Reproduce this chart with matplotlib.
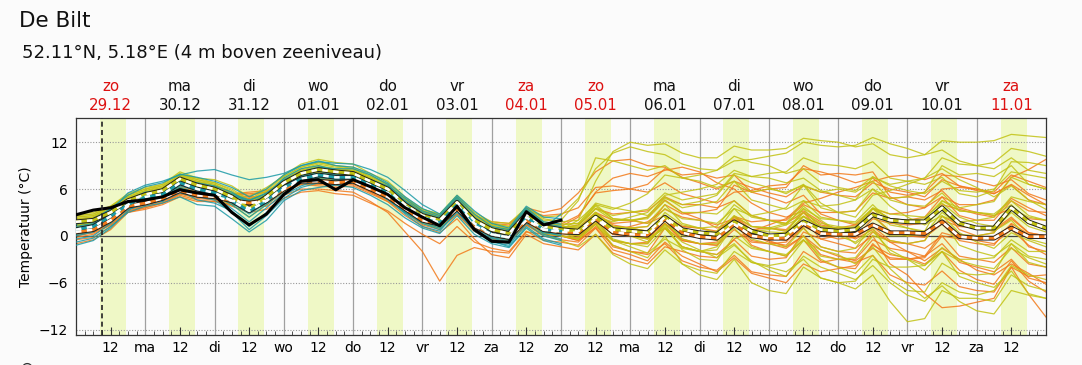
import numpy as np
import matplotlib.pyplot as plt

# tijdas: 6-uurlijkse stappen vanaf zo 29.12 00:00 (in dagen)
t_teal = np.arange(0, 169, 6) / 24.0
t_full = np.arange(0, 337, 6) / 24.0
nu = 9.1 / 24.0  # huidige tijd (gestreepte lijn)

dag_namen = ['zo', 'ma', 'di', 'wo', 'do', 'vr', 'za', 'zo', 'ma', 'di', 'wo', 'do', 'vr', 'za']
datums = ['29.12', '30.12', '31.12', '01.01', '02.01', '03.01', '04.01',
          '05.01', '06.01', '07.01', '08.01', '09.01', '10.01', '11.01']
weekend = [True, False, False, False, False, False, True, True, False, False, False, False, False, True]
onder_labels = ['12', 'ma', '12', 'di', '12', 'wo', '12', 'do', '12', 'vr', '12', 'za', '12', 'zo',
                '12', 'ma', '12', 'di', '12', 'wo', '12', 'do', '12', 'vr', '12', 'za', '12']

# deterministische run (zwart)
det = [2.7, 3.3, 3.6, 4.4, 4.6, 5.0, 5.9, 5.5, 5.2, 3.0, 1.4, 2.8, 5.3, 7.0, 7.2, 5.9, 7.2, 6.3, 5.3,
       3.6, 2.4, 1.3, 3.8, 0.8, -0.7, -0.8, 3.1, 1.4, 2.0]

# ensemble gemiddelden
teal_gem = [0.8, 1.2, 2.5, 4.0, 5.0, 5.3, 6.8, 6.0, 5.5, 4.5, 3.2, 4.5, 6.2, 7.3, 7.8, 7.5, 7.5, 6.5,
            5.5, 3.8, 2.4, 1.7, 4.0, 1.6, 0.2, -0.2, 2.4, 0.8, 0.6]
oranje_gem = [0.5, 0.8, 2.0, 3.8, 4.2, 4.8, 5.8, 5.2, 5.0, 4.5, 4.2, 4.5, 6.0, 7.0, 7.0, 6.8, 7.0, 6.0,
              5.0, 3.5, 2.0, 1.5, 3.5, 1.3, 0.2, -0.2, 2.0, 0.8, 0.5, 0.4, 2.2, 0.5, 0.2, 0.1, 2.2, 0.4,
              -0.1, -0.3, 1.5, 0.0, -0.3, -0.3, 1.6, 0.3, 0.2, 0.2, 1.4, 0.4, 0.4, 0.3, 1.8, -0.1, -0.3,
              -0.3, 1.0, -0.1, -0.1]
olijf_gem = [1.8, 2.0, 3.0, 4.5, 5.3, 5.8, 7.3, 6.5, 6.0, 5.0, 3.5, 5.0, 6.8, 8.0, 8.5, 8.2, 8.0, 7.0,
             6.0, 4.0, 2.6, 2.0, 4.3, 2.0, 0.8, 0.3, 2.8, 1.2, 0.8, 0.6, 2.4, 0.8, 0.6, 0.4, 2.4, 0.8,
             0.4, 0.2, 1.8, 0.6, 0.0, 0.1, 1.8, 0.8, 0.6, 0.8, 2.7, 2.0, 1.8, 1.8, 3.6, 1.6, 1.0, 1.0,
             3.6, 1.8, 1.0]

# ensemble leden, eerste model (7 dagen)
teal_leden = [
    [1.5, 2.0, 3.5, 5.2, 6.3, 6.8, 7.9, 7.5, 7.0, 6.2, 5.0, 6.0, 7.8, 9.0, 9.6, 9.0, 8.8, 8.0, 6.8, 5.0, 3.5, 2.6, 5.0, 2.8, 1.2, 0.8, 3.6, 1.8, 1.5],
    [-0.8, -0.3, 1.2, 3.0, 3.8, 4.2, 5.0, 4.0, 3.8, 2.2, 0.5, 2.0, 4.5, 5.8, 6.2, 6.5, 6.2, 5.2, 4.0, 2.3, 1.0, 0.3, 2.6, 0.2, -1.0, -1.5, 1.0, -0.6, -1.2],
    [1.0, 1.4, 3.0, 4.5, 5.5, 5.7, 7.4, 6.4, 6.2, 5.2, 4.0, 5.0, 6.5, 7.6, 8.5, 8.0, 7.0, 6.0, 4.6, 3.0, 1.8, 1.0, 3.6, 1.2, -0.3, -0.8, 2.0, 0.5, 0.0],
    [0.4, 0.8, 2.2, 3.6, 4.5, 4.8, 6.0, 5.6, 5.0, 3.5, 1.8, 3.6, 5.5, 6.8, 7.0, 6.8, 7.8, 7.2, 6.2, 4.5, 3.0, 2.2, 4.5, 2.0, 0.8, 0.2, 3.0, 1.2, 1.2],
    [1.2, 1.6, 2.8, 4.2, 5.3, 6.0, 7.0, 6.6, 5.8, 5.2, 4.5, 5.5, 7.0, 8.0, 8.3, 7.8, 7.2, 6.0, 5.0, 3.2, 2.0, 1.2, 3.8, 1.4, -0.2, -0.6, 2.2, 0.4, 0.2],
    [0.6, 1.5, 3.2, 5.5, 6.5, 7.0, 7.8, 8.3, 8.5, 7.8, 7.2, 7.5, 8.0, 9.0, 9.5, 9.3, 9.2, 8.5, 7.5, 5.8, 4.0, 2.8, 5.2, 3.2, 1.6, 1.0, 3.8, 2.4, 2.2],
    [0.0, 0.5, 1.8, 3.4, 4.0, 4.5, 5.5, 5.0, 4.6, 3.0, 0.8, 2.6, 4.8, 6.2, 6.8, 6.6, 6.8, 5.8, 4.8, 2.8, 1.2, 0.6, 3.2, 0.6, -0.8, -1.2, 1.6, 0.0, -0.6],
    [1.6, 1.8, 2.6, 4.0, 4.8, 5.2, 6.5, 6.2, 5.5, 4.8, 3.8, 4.8, 6.5, 7.8, 8.0, 7.2, 7.0, 6.2, 5.8, 4.2, 2.8, 2.0, 4.3, 1.9, 0.4, 0.0, 2.8, 1.3, 1.0],
    [-1.2, -0.6, 1.0, 3.2, 4.6, 5.0, 6.2, 5.4, 5.2, 4.0, 2.4, 4.0, 5.8, 7.0, 7.4, 7.6, 8.2, 7.0, 5.8, 4.0, 2.2, 1.6, 4.2, 1.5, 0.0, -0.4, 2.6, 0.6, 0.4],
    [0.9, 1.0, 2.4, 3.8, 4.4, 4.4, 6.8, 6.0, 5.6, 4.2, 2.8, 4.2, 6.0, 7.0, 7.5, 7.2, 7.4, 6.6, 5.6, 3.6, 2.2, 1.4, 3.5, 1.0, -0.5, -1.0, 2.2, 0.2, -0.4],
    [0.2, 0.6, 2.0, 3.8, 4.8, 5.0, 6.4, 5.8, 5.4, 4.4, 3.4, 4.6, 6.4, 7.6, 8.0, 7.8, 7.6, 6.4, 5.2, 3.4, 2.0, 1.2, 4.4, 1.8, 0.4, -0.4, 2.6, 1.0, 2.8],
    [1.8, 2.2, 3.4, 4.6, 5.6, 5.8, 7.2, 6.8, 6.4, 5.6, 4.2, 5.2, 7.4, 8.6, 9.0, 8.4, 8.0, 7.2, 6.4, 4.8, 3.2, 2.4, 4.8, 2.4, 0.8, 0.4, 3.2, 1.6, 0.8],
    [-0.4, 0.0, 1.6, 3.6, 4.2, 4.6, 5.8, 4.6, 4.2, 3.2, 1.2, 3.0, 5.2, 6.4, 7.2, 7.0, 7.0, 6.2, 5.0, 3.0, 1.6, 0.8, 3.0, 0.8, -0.6, -1.4, 1.2, -0.4, -1.0],
    [0.8, 1.4, 2.8, 4.4, 5.0, 5.6, 6.6, 6.2, 6.0, 5.4, 4.6, 5.4, 7.2, 8.2, 8.8, 8.6, 8.6, 7.8, 6.6, 4.4, 2.6, 1.8, 4.6, 2.2, 1.0, 0.6, 3.4, 1.6, 1.2],
]

# ensemble leden, tweede model (14 dagen)
oranje_leden = [
    [1.0, 1.2, 2.6, 4.4, 5.0, 5.5, 6.6, 6.0, 5.8, 5.4, 5.2, 5.6, 7.0, 8.2, 8.6, 8.0, 7.8, 6.8, 6.0, 4.6, 3.0, 2.4, 4.4, 2.5, 1.6, 1.4, 3.6, 3.0, 3.5,
     5.5, 8.2, 9.6, 9.8, 9.0, 8.8, 7.5, 6.8, 6.0, 7.0, 6.2, 5.5, 5.0, 6.4, 5.6, 5.2, 5.0, 6.8, 6.0, 5.6, 5.0, 7.2, 6.4, 6.0, 5.6, 7.8, 7.0, 6.2],
    [-0.5, -0.2, 1.2, 3.0, 3.4, 4.0, 5.0, 4.4, 4.4, 4.0, 3.6, 3.8, 5.2, 6.0, 6.0, 5.8, 5.6, 4.4, 3.0, 0.5, -2.0, -5.8, -2.5, -1.5, -2.0, -2.2, 0.5, 0.2, 0.0,
     -0.6, 1.0, -1.2, -2.0, -2.4, -1.0, -3.2, -4.0, -4.4, -2.5, -4.6, -5.0, -5.2, -2.0, -3.4, -3.0, -3.4, -2.5, -5.0, -6.0, -6.3, -4.5, -6.5, -7.0, -7.2, -4.0, -5.2, -5.0],
    [0.8, 1.0, 2.2, 4.0, 4.4, 5.0, 6.0, 5.4, 5.2, 4.8, 4.6, 4.8, 6.2, 7.2, 7.4, 7.0, 7.2, 6.2, 5.2, 3.6, 2.2, 1.6, 3.8, 1.4, 0.4, 0.0, 2.2, 1.0, 0.5,
     0.2, 2.3, 0.4, 0.0, -0.3, 1.6, -0.4, -1.0, -1.2, 1.5, 0.0, 0.0, 0.0, 2.5, 1.2, 1.0, 0.8, 2.6, 0.6, 0.0, -0.2, 1.5, -0.6, -1.0, -1.2, 1.6, 0.2, 0.0],
    [0.2, 0.6, 1.6, 3.4, 3.8, 4.4, 5.4, 4.8, 4.6, 4.0, 3.6, 4.0, 5.6, 6.6, 6.6, 6.4, 6.6, 5.6, 4.6, 3.2, 1.8, 1.2, 3.2, 1.2, 0.4, 0.2, 2.4, 1.2, 1.0,
     0.8, 3.0, 1.4, 1.0, 1.2, 4.0, 2.8, 3.0, 3.4, 6.5, 5.6, 6.0, 6.2, 9.0, 7.8, 8.0, 7.8, 8.2, 5.0, 4.0, 3.6, 5.0, 2.6, 2.0, 2.0, 4.5, 3.2, 3.0],
    [1.2, 1.5, 2.6, 4.2, 4.6, 5.2, 6.4, 5.8, 5.6, 5.2, 5.0, 5.2, 6.4, 7.4, 7.6, 7.2, 7.4, 6.4, 5.2, 3.0, 1.4, 0.8, 2.8, 0.6, -0.4, -0.8, 1.4, 0.2, 0.0,
     -0.4, 2.0, -0.6, -1.0, -0.8, 2.5, 1.2, 1.0, 0.4, 2.0, -1.2, -2.0, -2.6, -0.5, -3.2, -4.0, -4.2, -1.0, -3.0, -3.0, -2.8, 0.0, -0.4, 0.0, 0.4, 3.5, 2.2, 2.0],
    [0.0, 0.4, 1.6, 3.6, 4.0, 4.6, 5.6, 5.0, 4.8, 4.4, 4.4, 4.6, 6.0, 7.2, 7.0, 6.8, 7.0, 6.0, 5.0, 3.8, 2.4, 1.8, 3.8, 1.8, 0.8, 0.6, 2.6, 1.6, 1.5,
     2.6, 5.5, 5.8, 6.0, 6.6, 8.6, 7.8, 8.0, 7.4, 7.8, 5.6, 5.0, 4.2, 5.2, 2.8, 2.0, 1.4, 2.5, 0.6, 0.0, 0.0, 2.0, 1.2, 1.0, 0.6, 2.2, 0.4, 0.0],
    [0.6, 0.9, 2.2, 3.8, 4.2, 4.8, 5.6, 5.0, 4.8, 4.2, 3.8, 4.2, 5.8, 6.8, 6.8, 6.6, 6.8, 5.8, 4.8, 3.2, 1.8, 1.2, 3.2, 1.0, 0.0, -0.4, 1.8, 0.4, 0.0,
     -0.2, 2.0, 0.2, 0.0, -0.4, 1.0, -1.4, -2.0, -2.4, -0.5, -2.6, -3.0, -2.8, 0.5, -0.4, 0.0, 0.4, 3.0, 2.0, 2.0, 2.4, 5.0, 4.0, 4.0, 4.6, 7.5, 8.5, 9.8],
    [-0.2, 0.2, 1.4, 3.2, 3.6, 4.2, 5.2, 4.6, 4.4, 4.0, 4.0, 4.2, 5.8, 6.6, 6.4, 6.2, 6.4, 5.4, 4.4, 3.0, 1.6, 1.0, 2.8, 0.6, -0.4, -0.8, 1.4, 0.0, -0.5,
     -0.8, 1.2, -0.6, -1.0, -1.0, 1.5, 0.4, 0.0, 0.2, 2.5, 1.2, 1.0, 0.6, 2.0, -0.4, -1.0, -1.6, 0.0, -3.6, -5.0, -7.4, -9.2, -9.0, -8.5, -8.0, -4.0, -7.5, -10.4],
    [0.6, 1.0, 2.0, 3.8, 4.4, 5.0, 6.0, 5.4, 5.2, 4.8, 4.4, 4.8, 6.4, 7.4, 7.2, 7.0, 7.2, 6.2, 5.2, 3.8, 2.4, 1.8, 3.8, 1.6, 0.6, 0.2, 2.4, 1.2, 1.0,
     1.0, 3.0, 2.0, 2.0, 1.6, 2.6, 0.6, 0.0, 0.2, 2.5, 1.8, 2.0, 2.0, 4.0, 3.0, 3.0, 3.2, 5.5, 4.8, 5.0, 4.6, 5.8, 3.6, 3.0, 2.6, 3.5, 1.6, 1.0],
    [0.4, 0.6, 1.8, 3.6, 4.0, 4.6, 5.8, 5.2, 5.0, 4.6, 4.4, 4.6, 6.0, 6.8, 7.0, 6.8, 7.0, 6.0, 5.0, 3.4, 2.0, 1.4, 3.4, 1.2, 0.2, -0.2, 2.0, 0.8, 0.5,
     0.2, 2.2, 0.2, 0.0, 0.2, 2.5, 1.2, 1.0, 0.6, 2.5, 0.4, 0.0, -0.6, 1.0, -1.4, -2.0, -2.2, 0.5, -0.8, -1.0, -1.6, 0.0, -2.6, -3.0, -3.4, -1.5, -3.6, -4.0],
    [1.4, 1.6, 2.8, 4.4, 4.8, 5.4, 6.6, 5.8, 5.6, 5.0, 4.8, 5.0, 6.6, 7.6, 7.8, 7.4, 7.6, 6.6, 5.6, 4.0, 2.4, 1.6, 3.6, 1.0, -0.2, -0.6, 1.6, 0.4, 0.0,
     -0.6, 1.5, -1.4, -2.0, -2.2, 1.0, -0.6, -1.0, -0.8, 2.5, 0.8, 1.0, 0.8, 3.0, 0.6, 0.0, 0.4, 3.5, 2.2, 2.0, 1.6, 3.5, 0.8, 0.0, -0.4, 1.5, -1.4, -2.0],
    [0.0, 0.5, 1.8, 3.8, 4.4, 5.2, 6.2, 5.4, 5.0, 4.4, 4.2, 4.4, 6.0, 7.0, 7.2, 7.2, 7.4, 6.2, 5.2, 3.6, 2.0, 1.4, 3.4, 1.4, 0.6, 0.4, 2.6, 1.2, 1.0,
     1.4, 3.5, 2.8, 3.0, 3.2, 5.0, 4.0, 4.0, 3.6, 4.5, 2.6, 2.0, 1.6, 3.0, 1.4, 1.0, 1.4, 3.5, 2.8, 3.0, 3.6, 6.0, 6.2, 6.0, 5.4, 6.5, 4.6, 4.0],
    [0.9, 1.1, 2.1, 3.9, 4.3, 4.9, 5.9, 5.3, 5.1, 4.5, 4.1, 4.5, 6.1, 7.1, 7.1, 6.9, 7.1, 6.1, 5.1, 3.5, 2.1, 1.5, 3.5, 1.3, 0.3, -0.1, 2.1, 0.9, 0.5,
     0.2, 2.0, 0.2, 0.0, -0.2, 1.6, -0.6, -1.0, -1.2, 0.8, -0.8, -1.0, -0.8, 1.5, 0.2, 0.0, -0.2, 1.2, -0.6, -1.0, -0.6, 2.5, 1.4, 1.0, 0.8, 2.4, 0.4, 0.0],
    [-1.0, -0.5, 0.8, 3.0, 3.6, 4.2, 5.4, 5.0, 4.8, 4.6, 4.8, 5.0, 6.6, 7.6, 7.4, 7.2, 7.4, 6.4, 5.4, 3.8, 2.2, 1.6, 3.4, 1.2, 0.2, -0.2, 2.2, 0.8, 0.5,
     0.4, 2.6, 1.2, 1.0, 0.6, 2.5, 0.4, 0.0, -0.4, 1.5, -0.6, -1.0, -1.6, 0.0, -2.4, -3.0, -3.0, -0.5, -1.6, -2.0, -2.6, -1.0, -3.4, -4.0, -4.6, -3.0, -5.4, -6.0],
    [0.2, 0.4, 1.4, 3.2, 3.8, 4.4, 5.4, 5.0, 5.2, 5.4, 5.6, 5.8, 6.8, 7.6, 7.8, 7.4, 7.2, 6.4, 5.8, 4.6, 3.2, 2.2, 3.6, 1.8, 1.0, 0.8, 2.6, 1.4, 1.2,
     2.4, 5.6, 7.4, 8.0, 7.6, 8.4, 8.8, 8.2, 6.8, 6.0, 4.2, 3.0, 2.4, 3.2, 1.8, 0.6, -0.4, 0.8, -0.8, -2.0, -3.2, -1.6, -3.0, -4.4, -5.0, -3.6, -4.8, -6.2],
    [1.0, 1.3, 2.4, 4.0, 4.4, 5.0, 6.2, 5.6, 5.4, 5.0, 4.8, 5.2, 6.6, 7.4, 7.2, 7.0, 6.8, 5.6, 4.4, 2.6, 1.2, 0.4, 2.2, -0.4, -2.4, -2.8, 0.2, -1.0, -1.4,
     -1.8, 0.2, -2.2, -3.0, -3.6, -1.4, -2.0, -2.6, -2.8, -0.4, 0.6, 1.4, 2.2, 4.2, 4.8, 5.6, 6.2, 7.0, 7.6, 7.8, 7.2, 8.0, 6.4, 5.8, 5.4, 6.6, 5.2, 4.0],
    [0.6, 0.9, 1.8, 3.4, 4.0, 4.6, 5.6, 5.0, 4.6, 3.8, 3.0, 3.4, 4.8, 5.6, 5.8, 5.4, 5.2, 4.2, 3.2, 1.6, 0.2, -1.0, 1.2, -0.8, -1.6, -2.0, 0.6, -0.6, -0.8,
     -1.2, 1.0, -1.8, -2.4, -3.2, -0.8, -2.6, -3.6, -4.6, -2.8, -4.8, -5.4, -6.0, -3.6, -4.6, -4.2, -3.8, -1.2, -2.4, -2.8, -3.6, -2.0, -4.4, -5.6, -6.2, -3.2, -5.8, -7.2],
    [0.2, 0.6, 1.8, 3.6, 4.2, 4.8, 6.0, 5.6, 5.6, 5.4, 5.4, 5.6, 6.8, 7.6, 7.6, 7.4, 7.6, 6.8, 6.0, 4.6, 3.2, 2.6, 4.2, 2.6, 1.8, 1.6, 3.2, 2.6, 2.8,
     3.6, 6.2, 6.4, 6.0, 5.6, 6.8, 5.4, 4.8, 4.2, 5.6, 5.8, 6.4, 6.6, 8.6, 8.2, 7.6, 6.8, 7.4, 5.6, 5.2, 5.6, 7.8, 7.6, 7.0, 6.4, 7.2, 5.4, 4.6],
    [0.4, 0.7, 1.9, 3.7, 4.1, 4.7, 5.7, 5.1, 4.9, 4.3, 4.0, 4.3, 5.9, 6.9, 6.9, 6.7, 6.9, 5.9, 4.9, 3.3, 1.9, 1.3, 3.3, 1.1, 0.1, -0.3, 1.9, 0.6, 0.3,
     0.0, 1.6, 0.8, 1.2, 1.8, 3.4, 2.4, 2.0, 1.4, 2.2, 0.4, -0.6, -1.4, 0.0, -1.8, -2.6, -3.2, -1.6, -2.8, -3.0, -2.6, 0.4, -0.2, -0.6, -1.0, 0.8, -1.2, -2.4],
    [0.9, 1.2, 2.4, 4.2, 4.6, 5.2, 6.2, 5.6, 5.4, 4.8, 4.6, 4.8, 6.4, 7.4, 7.4, 7.2, 7.4, 6.4, 5.4, 3.8, 2.4, 1.8, 3.8, 1.6, 0.6, 0.2, 2.4, 1.0, 0.8,
     0.6, 2.6, 1.6, 1.8, 2.4, 4.6, 3.0, 2.2, 1.0, 2.0, 0.2, -0.8, -1.2, 1.2, 0.2, -0.4, -0.2, 2.2, 1.6, 1.4, 1.6, 4.0, 3.4, 2.8, 2.4, 4.8, 3.6, 2.6],
]

# ensemble leden, derde model (14 dagen)
olijf_leden = [
    [2.4, 2.6, 3.6, 5.2, 6.0, 6.6, 8.0, 7.2, 6.8, 6.0, 4.6, 6.0, 7.8, 9.2, 9.8, 9.4, 9.2, 8.0, 7.0, 5.0, 3.4, 2.8, 5.0, 2.6, 1.4, 0.9, 3.4, 1.4, 0.8,
     2.0, 7.0, 10.8, 12.0, 11.6, 11.8, 10.6, 10.0, 10.0, 11.5, 11.0, 11.0, 11.2, 12.5, 12.2, 12.0, 11.4, 11.8, 10.4, 10.0, 10.4, 12.2, 12.0, 12.0, 12.2, 13.0, 12.8, 12.6],
    [0.6, 0.8, 2.0, 3.6, 4.4, 4.8, 6.2, 5.4, 5.0, 4.0, 2.4, 4.0, 5.8, 7.0, 7.4, 7.2, 7.0, 6.0, 5.0, 3.0, 1.6, 1.0, 3.4, 1.2, 0.0, -0.5, 2.0, 0.6, 0.5,
     -0.4, 1.5, -1.2, -2.0, -2.8, 0.0, -3.6, -5.0, -5.6, -3.0, -6.0, -7.0, -7.4, -4.0, -5.4, -6.0, -6.8, -5.0, -8.4, -11.0, -10.6, -7.0, -8.0, -8.0, -8.4, -5.0, -6.4, -7.0],
    [2.0, 2.2, 3.2, 4.8, 5.6, 6.0, 7.6, 6.8, 6.2, 5.2, 3.8, 5.2, 7.0, 8.2, 8.8, 8.4, 8.2, 7.2, 6.2, 4.2, 2.8, 2.2, 4.6, 2.2, 1.0, 0.6, 3.0, 1.4, 1.0,
     0.8, 3.0, 1.2, 1.0, 0.6, 2.5, 0.4, 0.0, -0.6, 1.0, -1.4, -2.0, -2.4, -0.5, -2.6, -3.0, -2.8, 0.0, -0.6, -1.0, -0.6, 2.5, 1.8, 2.0, 2.4, 5.0, 4.4, 4.0],
    [1.4, 1.6, 2.6, 4.2, 5.0, 5.4, 7.0, 6.2, 5.6, 4.6, 3.0, 4.6, 6.4, 7.6, 8.0, 7.8, 7.6, 6.8, 5.8, 3.8, 2.4, 1.8, 4.0, 1.8, 0.6, 0.2, 2.6, 1.0, 0.8,
     1.0, 3.5, 2.0, 2.0, 2.4, 5.0, 3.6, 4.0, 4.4, 7.0, 5.6, 6.0, 5.6, 6.5, 3.6, 3.0, 3.2, 6.0, 4.8, 5.0, 5.6, 9.0, 7.8, 8.0, 7.6, 9.0, 6.6, 6.0],
    [1.0, 1.4, 2.6, 4.0, 4.8, 5.2, 6.8, 6.0, 5.6, 4.6, 3.0, 4.4, 6.2, 7.4, 7.8, 7.6, 7.6, 6.6, 5.6, 3.6, 2.2, 1.6, 3.8, 1.4, 0.2, -0.2, 2.2, 0.4, 0.0,
     -0.4, 2.0, -0.4, -1.0, -1.4, 1.0, -1.4, -2.0, -1.8, 1.5, 0.2, 0.0, 0.4, 3.5, 2.2, 2.0, 1.8, 4.0, 1.8, 1.0, 0.4, 2.0, -1.2, -2.0, -2.6, -1.0, -3.4, -4.0],
    [2.2, 2.4, 3.4, 4.8, 5.6, 6.2, 7.6, 6.8, 6.4, 5.4, 4.0, 5.4, 7.2, 8.4, 9.0, 8.6, 8.4, 7.4, 6.4, 4.4, 3.0, 2.4, 4.8, 2.4, 1.4, 1.0, 3.4, 2.0, 2.0,
     4.5, 10.0, 9.6, 9.0, 8.4, 9.0, 7.4, 7.0, 6.2, 7.0, 4.6, 4.0, 3.4, 4.5, 2.4, 2.0, 1.6, 3.5, 1.4, 1.0, 0.6, 2.0, 0.2, 0.0, 0.4, 3.5, 2.4, 2.0],
    [1.6, 1.8, 2.8, 4.4, 5.2, 5.6, 7.0, 6.4, 6.0, 5.0, 3.6, 5.0, 6.6, 7.8, 8.2, 8.0, 7.8, 6.8, 5.8, 3.8, 2.4, 1.8, 4.0, 1.6, 0.6, 0.0, 2.4, 0.8, 0.5,
     0.0, 2.5, 0.4, 0.0, 0.0, 3.0, 1.4, 1.0, 1.2, 4.0, 2.4, 2.0, 1.6, 3.5, 0.8, 0.0, -0.8, 1.0, -2.2, -3.0, -3.8, -2.0, -5.2, -6.0, -6.6, -4.5, -7.4, -8.0],
    [2.6, 2.8, 3.6, 5.0, 5.8, 6.2, 7.8, 7.0, 6.4, 5.4, 4.0, 5.4, 7.2, 8.4, 8.8, 8.6, 8.4, 7.4, 6.2, 4.2, 2.8, 2.2, 4.6, 2.0, 0.8, 0.4, 2.8, 1.2, 1.0,
     0.6, 2.5, 0.4, 0.0, -0.4, 1.0, -1.4, -2.0, -2.4, -1.0, -3.4, -4.0, -4.6, -3.0, -5.4, -6.0, -5.8, -3.0, -4.0, -4.0, -3.8, -1.5, -3.0, -3.0, -2.8, -0.5, -2.0, -2.0],
    [1.2, 1.4, 2.4, 4.0, 4.8, 5.4, 7.0, 6.2, 5.8, 4.8, 3.2, 4.8, 6.6, 7.8, 8.2, 8.0, 7.8, 6.8, 5.8, 3.8, 2.4, 1.8, 4.0, 1.8, 0.6, 0.2, 2.6, 0.8, 0.6,
     0.4, 2.8, 1.2, 1.0, 1.2, 3.5, 2.2, 2.0, 1.6, 3.5, 1.2, 1.0, 1.6, 4.5, 3.8, 4.0, 4.6, 7.5, 6.6, 7.0, 7.4, 10.0, 9.2, 9.0, 8.6, 10.0, 8.4, 8.0],
    [1.8, 2.0, 3.0, 4.6, 5.4, 5.8, 7.2, 6.6, 6.0, 5.0, 3.4, 5.0, 6.8, 8.0, 8.4, 8.2, 8.0, 7.0, 6.0, 4.0, 2.6, 2.0, 4.2, 2.0, 0.8, 0.4, 2.8, 1.2, 1.0,
     0.8, 2.8, 0.8, 0.5, 0.4, 2.5, 0.4, 0.0, 0.0, 2.0, 0.8, 0.5, 0.4, 2.5, 1.2, 1.0, 0.8, 2.5, 0.6, 0.0, 0.2, 3.0, 1.4, 1.0, 0.8, 3.0, 1.2, 0.5],
    [2.2, 2.4, 3.2, 4.6, 5.4, 6.0, 7.4, 6.6, 6.2, 5.2, 3.6, 5.0, 6.8, 8.0, 8.6, 8.2, 8.0, 7.0, 5.8, 3.8, 2.4, 1.8, 4.0, 1.6, 0.4, 0.0, 2.4, 0.4, 0.0,
     -0.4, 1.5, -0.6, -1.0, -1.0, 1.5, 0.0, 0.0, 0.6, 3.5, 2.6, 3.0, 3.6, 6.5, 5.6, 6.0, 5.6, 7.0, 4.6, 4.0, 3.8, 5.5, 3.2, 3.0, 2.6, 4.0, 1.6, 1.0],
    [1.0, 1.2, 2.4, 4.2, 5.0, 5.6, 7.0, 6.2, 5.8, 4.8, 3.4, 4.8, 6.6, 7.8, 8.4, 8.0, 7.8, 6.8, 6.0, 4.2, 2.8, 2.2, 4.6, 2.2, 1.2, 0.8, 3.2, 1.4, 1.2,
     1.2, 4.0, 2.2, 2.0, 1.6, 4.0, 1.6, 1.0, 0.4, 2.5, -0.4, -1.0, -1.4, 1.0, -1.4, -2.0, -1.6, 1.5, 0.0, 0.0, 0.6, 4.5, 3.6, 4.0, 4.4, 7.5, 6.6, 6.0],
    [1.6, 1.8, 2.8, 4.2, 5.0, 5.6, 7.0, 6.4, 5.8, 4.8, 3.2, 4.8, 6.6, 7.8, 8.2, 8.0, 7.6, 6.6, 5.6, 3.6, 2.2, 1.6, 3.8, 1.6, 0.6, 0.2, 2.6, 1.0, 0.8,
     0.4, 3.0, 0.8, 0.0, -0.8, 1.5, -1.8, -3.0, -3.2, 0.0, -1.6, -2.0, -2.6, 0.0, -3.0, -4.0, -4.8, -2.5, -5.6, -7.0, -7.2, -3.5, -4.8, -5.0, -4.8, -1.0, -2.6, -3.0],
    [2.0, 2.2, 3.2, 4.8, 5.6, 6.0, 7.4, 6.8, 6.2, 5.2, 3.8, 5.2, 7.0, 8.2, 8.8, 8.4, 8.4, 7.4, 6.4, 4.4, 3.0, 2.4, 4.6, 2.4, 1.2, 0.8, 3.2, 1.4, 1.0,
     1.4, 3.5, 2.6, 3.0, 3.4, 5.5, 4.6, 5.0, 5.4, 8.0, 7.6, 8.0, 8.2, 10.0, 9.2, 9.0, 8.6, 9.5, 7.4, 7.0, 6.6, 7.5, 5.4, 5.0, 5.8, 9.5, 9.4, 9.0],
    [1.4, 1.6, 2.8, 4.4, 5.0, 5.6, 7.2, 6.4, 5.8, 4.8, 3.4, 4.8, 6.6, 7.6, 8.2, 8.0, 7.8, 6.8, 5.8, 3.8, 2.4, 1.8, 4.2, 1.8, 0.6, 0.0, 2.6, 0.8, 0.5,
     0.6, 2.8, 1.2, 1.0, 0.4, 2.0, -0.4, -1.0, -1.0, 1.5, 0.0, 0.0, 0.2, 2.5, 1.2, 1.0, 1.2, 3.5, 2.2, 2.0, 1.8, 3.5, 1.6, 1.0, 0.6, 2.0, -0.4, -1.0],
    [2.8, 3.0, 3.8, 5.2, 6.0, 6.4, 7.8, 7.2, 6.6, 5.6, 4.2, 5.6, 7.4, 8.6, 9.2, 8.8, 8.6, 7.6, 6.6, 4.6, 3.2, 2.6, 4.8, 2.6, 1.6, 1.2, 3.4, 1.8, 1.5,
     1.6, 3.8, 2.2, 2.0, 2.2, 4.5, 3.0, 3.0, 2.8, 4.5, 2.6, 2.0, 1.4, 2.5, 0.6, 0.0, 0.4, 3.5, 2.2, 2.0, 2.2, 4.5, 3.2, 3.0, 2.8, 4.5, 2.6, 2.0],
    [2.0, 2.4, 3.4, 5.0, 5.8, 6.4, 7.8, 7.4, 7.2, 6.4, 5.0, 6.2, 7.6, 8.8, 9.4, 9.0, 8.6, 7.6, 6.6, 4.8, 3.4, 2.8, 5.2, 3.0, 1.8, 1.6, 3.6, 2.4, 2.6,
     4.8, 8.6, 10.6, 11.4, 10.8, 10.4, 9.2, 8.6, 8.4, 9.6, 9.8, 10.2, 10.6, 12.0, 11.6, 11.4, 11.6, 12.6, 11.8, 11.2, 10.4, 11.0, 9.6, 9.0, 9.4, 11.2, 10.8, 10.2],
    [1.2, 1.6, 2.8, 4.4, 5.2, 5.6, 7.2, 6.4, 5.8, 4.6, 3.0, 4.6, 6.4, 7.6, 8.0, 7.8, 7.8, 6.8, 5.8, 3.6, 2.0, 1.4, 3.6, 1.2, 0.0, -0.6, 2.0, 0.2, -0.6,
     -1.4, 0.2, -2.4, -3.6, -4.2, -1.8, -3.6, -4.4, -4.8, -2.0, -3.4, -3.8, -3.4, -0.6, -1.8, -2.4, -3.6, -1.4, -4.2, -6.2, -8.0, -6.4, -8.4, -9.6, -10.0, -7.0, -7.6, -8.0],
    [1.8, 2.2, 3.2, 4.8, 5.4, 6.0, 7.6, 6.8, 6.4, 5.4, 4.0, 5.4, 7.2, 8.4, 8.8, 8.4, 8.2, 7.2, 6.2, 4.2, 2.8, 2.2, 4.6, 2.2, 1.0, 0.6, 3.2, 1.6, 1.4,
     1.6, 4.2, 3.6, 3.2, 2.6, 4.8, 4.0, 4.4, 5.2, 7.8, 6.8, 6.2, 5.4, 6.6, 4.2, 3.0, 2.4, 5.2, 5.8, 6.6, 7.4, 8.6, 7.2, 6.2, 5.0, 6.4, 4.6, 3.4],
    [1.4, 1.8, 2.8, 4.4, 5.2, 5.8, 7.0, 6.2, 5.8, 4.8, 3.2, 4.8, 6.4, 7.6, 8.2, 8.0, 7.8, 6.8, 5.8, 3.8, 2.2, 1.6, 3.8, 1.6, 0.4, 0.0, 2.4, 0.8, 0.4,
     0.0, 1.8, -0.6, -1.4, -2.2, -0.4, -1.6, -2.0, -1.4, 1.6, 0.6, 0.8, 1.4, 3.8, 2.0, 0.6, -1.0, 0.6, -1.8, -3.0, -4.4, -2.0, -3.2, -3.8, -4.2, -1.6, -2.8, -3.6],
    [2.4, 2.6, 3.4, 4.8, 5.6, 6.0, 7.6, 7.0, 6.6, 5.6, 4.2, 5.4, 7.0, 8.2, 8.6, 8.4, 8.2, 7.2, 6.2, 4.2, 2.8, 2.2, 4.4, 2.2, 1.0, 0.6, 3.0, 1.6, 1.2,
     1.0, 2.4, 1.8, 2.4, 3.0, 5.2, 5.6, 6.0, 6.6, 8.4, 7.6, 7.4, 6.8, 7.4, 5.8, 5.2, 4.6, 6.0, 3.8, 2.4, 1.4, 2.6, 0.4, -0.8, -1.6, 0.4, -0.6, -1.4],
    [1.0, 1.2, 2.4, 4.0, 4.8, 5.4, 6.8, 6.0, 5.6, 4.6, 3.2, 4.6, 6.4, 7.6, 8.2, 7.8, 7.8, 6.8, 5.8, 3.8, 2.4, 1.8, 4.0, 1.8, 0.6, 0.2, 2.6, 1.0, 0.6,
     0.4, 2.6, 1.0, 0.4, -0.4, 1.2, -0.8, -1.8, -2.8, -1.2, -3.2, -4.4, -5.2, -2.6, -4.0, -4.8, -5.6, -3.8, -6.0, -7.6, -8.4, -6.0, -7.2, -7.6, -7.0, -3.8, -5.0, -5.6],
    [2.6, 2.8, 3.8, 5.4, 6.2, 6.6, 8.2, 7.4, 6.8, 5.8, 4.4, 5.8, 7.6, 8.8, 9.4, 9.0, 8.8, 7.8, 6.6, 4.6, 3.2, 2.6, 5.0, 2.8, 1.6, 1.2, 3.6, 2.2, 1.8,
     2.0, 4.0, 3.4, 4.2, 5.4, 7.8, 7.4, 7.8, 8.4, 10.2, 9.4, 9.0, 8.0, 8.6, 6.8, 6.2, 5.8, 7.6, 6.4, 5.8, 5.4, 7.0, 5.8, 5.6, 6.0, 8.2, 7.8, 7.4],
    [1.6, 1.8, 2.6, 4.2, 5.0, 5.4, 6.8, 6.2, 5.8, 4.8, 3.4, 4.8, 6.6, 7.8, 8.2, 8.0, 7.8, 6.8, 5.8, 3.8, 2.4, 1.8, 4.2, 1.8, 0.6, 0.2, 2.8, 1.0, 0.8,
     0.4, 2.4, 0.6, 0.2, 0.0, 2.2, 0.4, 0.0, 0.2, 2.6, 1.2, 1.0, 0.6, 3.0, 1.6, 1.2, 1.0, 3.6, 2.8, 2.6, 2.4, 4.2, 2.4, 1.6, 1.2, 3.8, 2.0, 1.0],
]

kl_teal = '#1b9aa6'
kl_oranje = '#f27a1a'
kl_olijf = '#c2c214'

fig = plt.figure(figsize=(10.82, 3.65), dpi=100)
fig.patch.set_facecolor('#fbfbfb')
ax = fig.add_axes([0.0702, 0.0822, 0.8965, 0.5945])
ax.set_facecolor('#fbfbfb')

# daglicht banden
for d in range(14):
    ax.axvspan(d + 8.3 / 24, d + 17.3 / 24, color='#eff8c6', lw=0, zorder=0)
# middernacht lijnen en raster
for d in range(1, 14):
    ax.axvline(d, color='#a0a0a0', lw=0.9, zorder=1)
for y in [-12, -6, 6, 12]:
    ax.axhline(y, color='#999999', lw=0.8, ls=(0, (1, 1.5)), zorder=1)
ax.axhline(0, color='#444444', lw=0.9, zorder=1)

for lid in oranje_leden:
    ax.plot(t_full, lid, color=kl_oranje, lw=0.9, alpha=0.85, zorder=2)
for lid in olijf_leden:
    ax.plot(t_full, lid, color=kl_olijf, lw=0.9, alpha=0.85, zorder=2)
for lid in teal_leden:
    ax.plot(t_teal, lid, color=kl_teal, lw=0.9, alpha=0.85, zorder=3)

for tt, gem, kl in [(t_full, oranje_gem, kl_oranje), (t_full, olijf_gem, kl_olijf), (t_teal, teal_gem, kl_teal)]:
    ax.plot(tt, gem, color='#222222', lw=3.4, zorder=4)
    ax.plot(tt, gem, color=kl, lw=2.0, zorder=5)
    ax.plot(tt, gem, color='white', lw=1.8, ls=(0, (2.2, 2.2)), zorder=6)

ax.plot(t_teal, det, color='black', lw=2.2, zorder=7)
ax.axvline(nu, color='#222222', lw=1.2, ls=(0, (3, 2)), zorder=8)

ax.set_xlim(0, 14)
ax.set_ylim(-12.7, 15.1)
ax.set_yticks([-12, -6, 0, 6, 12])
ax.set_yticklabels(['\u221212', '\u22126', '0', '6', '12'])
ax.tick_params(axis='y', length=0, labelsize=10, pad=6)
ax.set_ylabel('Temperatuur (°C)', fontsize=10, labelpad=4)

onder_pos = [0.5 + 0.5 * i for i in range(len(onder_labels))]
ax.set_xticks(onder_pos)
ax.set_xticklabels(onder_labels)
ax.set_xticks(np.arange(0, 14.01, 0.125), minor=True)
ax.tick_params(axis='x', which='major', direction='in', length=6, labelsize=10, pad=4, color='#333333')
ax.tick_params(axis='x', which='minor', direction='in', length=3, color='#333333')
for pos, tick in zip(onder_pos, ax.xaxis.get_major_ticks()):
    if abs(pos - round(pos)) < 0.01:
        tick.tick1line.set_markersize(0)

for d in range(14):
    kleur = '#dd1111' if weekend[d] else '#111111'
    ax.text(d + 0.5, 1.125, dag_namen[d], transform=ax.get_xaxis_transform(), ha='center', va='baseline',
            fontsize=10.8, color=kleur)
    ax.text(d + 0.5, 1.035, datums[d], transform=ax.get_xaxis_transform(), ha='center', va='baseline',
            fontsize=10.8, color=kleur)

for s in ax.spines.values():
    s.set_color('#333333')
    s.set_linewidth(0.9)

fig.text(0.018, 0.925, 'De Bilt', fontsize=15.5, color='#111111')
fig.text(0.020, 0.840, '52.11°N, 5.18°E (4 m boven zeeniveau)', fontsize=13, color='#111111')
fig.text(0.017, -0.03, '©', fontsize=12, color='#333333')

fig.savefig('out.png', dpi=100, facecolor=fig.get_facecolor())
